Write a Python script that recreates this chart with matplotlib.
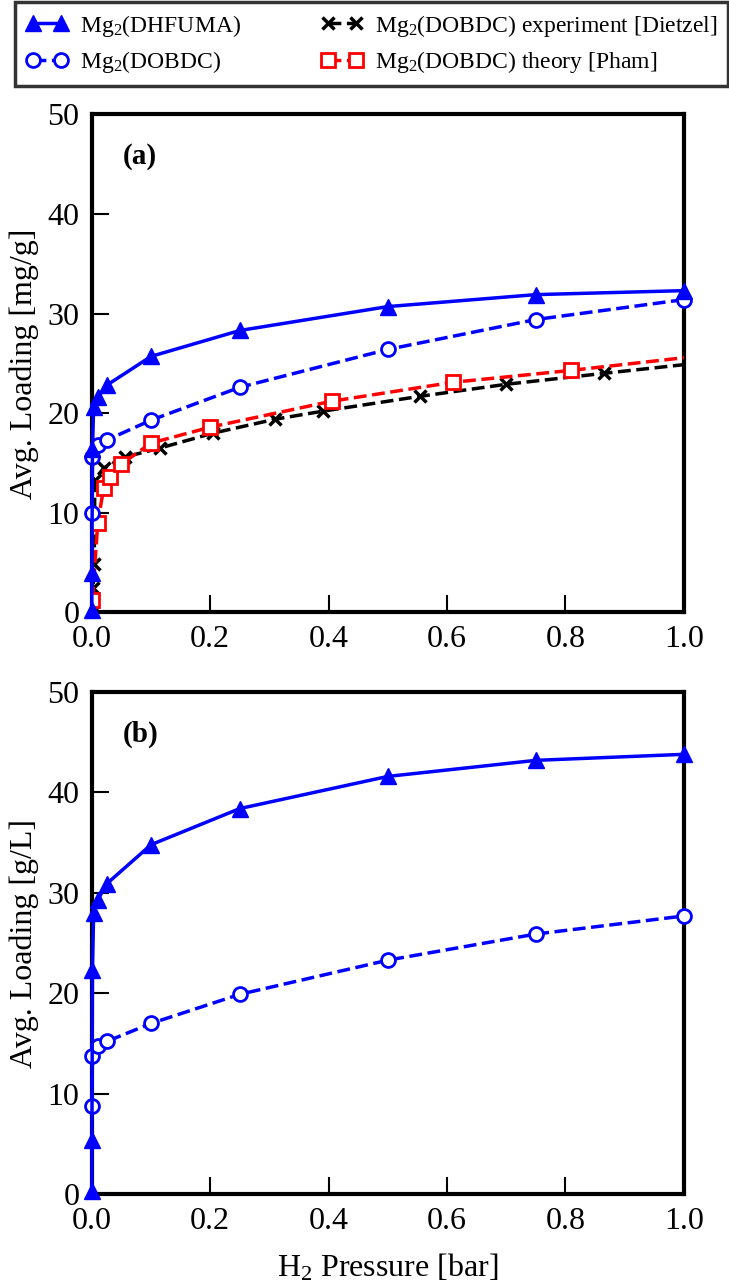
import matplotlib
matplotlib.use("Agg")
import matplotlib.pyplot as plt

plt.rcParams['font.family'] = ['Liberation Serif', 'DejaVu Serif']
plt.rcParams['mathtext.fontset'] = 'custom'
plt.rcParams['mathtext.rm'] = 'Liberation Serif'
plt.rcParams['mathtext.it'] = 'Liberation Serif:italic'

# Mg2(DHFUMA)
p_dhfuma = [0, 1e-4, 1e-3, 3e-3, 0.01, 0.025, 0.1, 0.25, 0.5, 0.75, 1.0]
dhfuma_mg = [0.2, 4.0, 16.4, 20.6, 21.6, 22.8, 25.7, 28.3, 30.7, 31.9, 32.3]
dhfuma_gl = [0.3, 5.4, 22.3, 28.0, 29.3, 30.9, 34.8, 38.4, 41.6, 43.2, 43.8]

# Mg2(DOBDC)
p_dobdc = [1e-4, 1e-3, 0.01, 0.025, 0.1, 0.25, 0.5, 0.75, 1.0]
dobdc_mg = [10.0, 15.6, 16.8, 17.3, 19.3, 22.6, 26.4, 29.4, 31.4]
dobdc_gl = [8.8, 13.8, 14.8, 15.2, 17.0, 19.9, 23.3, 25.9, 27.7]

# experiment [Dietzel]
p_dietzel = [0.0005, 0.002, 0.004, 0.005, 0.02, 0.056, 0.115, 0.205, 0.31,
             0.39, 0.555, 0.70, 0.865, 1.02]
dietzel_mg = [1.0, 2.5, 4.9, 13.3, 14.5, 15.6, 16.5, 18.0, 19.4, 20.2, 21.7,
              22.9, 24.0, 25.0]

# theory [Pham]
p_pham = [0.001, 0.01, 0.02, 0.03, 0.05, 0.1, 0.2, 0.405, 0.61, 0.81, 1.02]
pham_mg = [1.3, 9.0, 12.5, 13.6, 14.9, 17.0, 18.6, 21.2, 23.1, 24.3, 25.7]

xticks = [0.0, 0.2, 0.4, 0.6, 0.8, 1.0]
yticks = [0, 10, 20, 30, 40, 50]

blue = "#0000ff"
fig = plt.figure(figsize=(7.29, 12.84), dpi=100)
ax1 = fig.add_axes([0.126, 0.523, 0.812, 0.388])
ax2 = fig.add_axes([0.126, 0.070, 0.812, 0.391])

def style(ax, ylabel, tag):
    ax.set_xlim(0, 1)
    ax.set_ylim(0, 50)
    ax.set_xticks(xticks)
    ax.set_yticks(yticks)
    ax.set_xticklabels(["%.1f" % v for v in xticks])
    ax.tick_params(direction="in", length=12, width=1.5, labelsize=23,
                   top=False, right=False, pad=9)
    for s in ax.spines.values():
        s.set_linewidth(3)
    ax.set_ylabel(ylabel, fontsize=23, labelpad=6)
    ax.text(0.052, 0.915, tag, transform=ax.transAxes, fontsize=21,
            fontweight="bold", va="center")

l1, = ax1.plot(p_dhfuma, dhfuma_mg, "-", color=blue, lw=2.5, marker="^",
               ms=11, clip_on=False, zorder=5, label="Mg$_2$(DHFUMA)")
l2, = ax1.plot(p_dobdc, dobdc_mg, "--", color=blue, lw=2.5, marker="o",
               ms=10, mfc="white", mew=2, clip_on=False, zorder=4,
               label="Mg$_2$(DOBDC)")
l3, = ax1.plot(p_dietzel, dietzel_mg, "--", color="black", lw=2.5, marker="x",
               ms=8, mew=2.5, zorder=3,
               label="Mg$_2$(DOBDC) experiment [Dietzel]")
l4, = ax1.plot(p_pham, pham_mg, "--", color="red", lw=2.5, marker="s",
               ms=10, mfc="white", mew=2, zorder=3,
               label="Mg$_2$(DOBDC) theory [Pham]")
style(ax1, "Avg. Loading [mg/g]", "(a)")

ax2.plot(p_dhfuma, dhfuma_gl, "-", color=blue, lw=2.5, marker="^", ms=11,
         clip_on=False, zorder=5)
ax2.plot(p_dobdc, dobdc_gl, "--", color=blue, lw=2.5, marker="o", ms=10,
         mfc="white", mew=2, clip_on=False, zorder=4)
style(ax2, "Avg. Loading [g/L]", "(b)")
ax2.set_xlabel("H$_2$ Pressure [bar]", fontsize=23, labelpad=12)

leg = fig.legend(handles=[l1, l2, l3, l4], ncol=2, loc="upper left",
                 bbox_to_anchor=(15 / 729, 1 - 84 / 1284, 713 / 729, 82 / 1284),
                 mode="expand", fontsize=17, frameon=True, fancybox=False,
                 edgecolor="black", handlelength=1.8, columnspacing=1.0,
                 numpoints=2, handletextpad=0.5,
                 borderaxespad=0, labelspacing=0.45, borderpad=0.45)
leg.get_frame().set_linewidth(2.5)

fig.savefig("out.png", dpi=100)
